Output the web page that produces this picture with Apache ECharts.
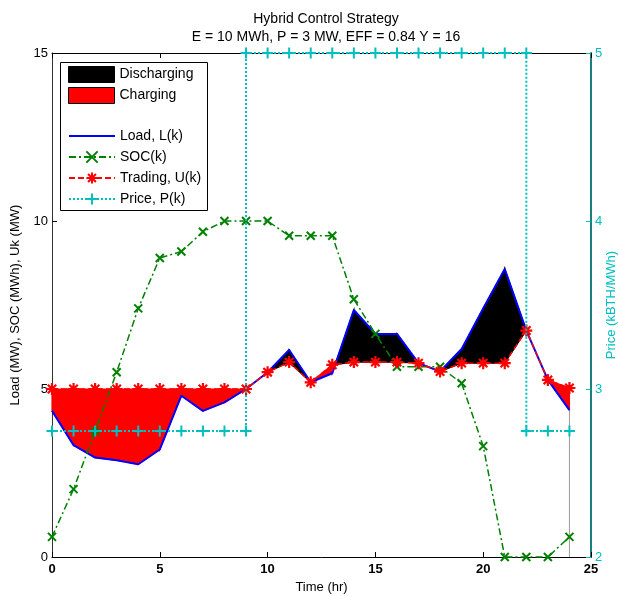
<!DOCTYPE html>
<html><head><meta charset="utf-8">
<script src="https://cdn.jsdelivr.net/npm/echarts@6/dist/echarts.min.js"></script>
<style>html,body{margin:0;padding:0;background:#fff}#c{width:618px;height:596px}</style>
</head><body><div id="c"></div>
<script>
var hours = [0,1,2,3,4,5,6,7,8,9,10,11,12,13,14,15,16,17,18,19,20,21,22,23,24];
var load = [4.35,3.33,2.96,2.88,2.76,3.2,4.8,4.35,4.6,5.0,5.5,6.16,5.2,5.47,7.35,6.64,6.64,5.77,5.52,6.19,7.4,8.57,6.74,5.27,4.37];
var trading = [5,5,5,5,5,5,5,5,5,5,5.5,5.8,5.2,5.72,5.8,5.8,5.8,5.77,5.52,5.77,5.77,5.77,6.74,5.27,5.03];
var soc = [0.6,2.02,3.75,5.5,7.4,8.9,9.09,9.68,10,10,10,9.56,9.56,9.56,7.67,6.64,5.66,5.66,5.66,5.17,3.3,0,0,0,0.6];
var priceHours = [0,1,2,3,4,5,6,7,8,9,9,10,11,12,13,14,15,16,17,18,19,20,21,22,22,23,24];
var priceValues = [2.75,2.75,2.75,2.75,2.75,2.75,2.75,2.75,2.75,2.75,5,5,5,5,5,5,5,5,5,5,5,5,5,5,2.75,2.75,2.75];
var xTicks = [0,5,10,15,20,25];
var leftTicks = [0,5,10,15];
var rightTicks = [2,3,4,5];

var FONT = 'Liberation Sans, Arial, sans-serif';
function pairs(xs, ys){ return xs.map(function(x,i){ return [x, ys[i]]; }); }
var segs = [];
for (var k=0;k<hours.length-1;k++) segs.push([hours[k],load[k],trading[k],hours[k+1],load[k+1],trading[k+1]]);

function makeFill(sign, color, name){
  return {
    type:'custom', name:name, xAxisIndex:0, yAxisIndex:0, z:1, silent:true,
    itemStyle:{color:color},
    encode:{x:[0,3], y:[1,2,4,5]},
    data: segs,
    renderItem: function(params, api){
      var h0=api.value(0), l0=api.value(1), u0=api.value(2), h1=api.value(3), l1=api.value(4), u1=api.value(5);
      var d0=(l0-u0)*sign, d1=(l1-u1)*sign, pts;
      if (d0<=0 && d1<=0) return null;
      if (d0>=0 && d1>=0) pts=[[h0,l0],[h1,l1],[h1,u1],[h0,u0]];
      else {
        var t=d0/(d0-d1), hc=h0+t*(h1-h0), yc=u0+t*(u1-u0);
        if (d0>0) pts=[[h0,l0],[hc,yc],[h0,u0]]; else pts=[[hc,yc],[h1,l1],[h1,u1]];
      }
      return {type:'polygon', shape:{points: pts.map(function(p){return api.coord(p);})}, style:{fill:color, stroke:color, lineWidth:1.2}};
    }
  };
}

var symX = 'path://M0 0L10 10M10 0L0 10';
var symPlus = 'path://M5 0L5 10M0 5L10 5';
var symStar = 'path://M5 0L5 10M0 5L10 5M1.5 1.5L8.5 8.5M8.5 1.5L1.5 8.5';

var last = hours.length-1;
var chart = echarts.init(document.getElementById('c'), null, {renderer:'canvas'});
chart.setOption({
  animation:false,
  backgroundColor:'#fff',
  title:{ text:'Hybrid Control Strategy\nE = 10 MWh, P = 3 MW, EFF = 0.84 Y = 16', left:321, textAlign:'center', top:5,
    textStyle:{fontFamily:FONT, fontSize:14, fontWeight:'normal', color:'#000', lineHeight:18} },
  grid:{ left:52, right:27, top:53, bottom:39, outerBoundsMode:'none', containLabel:false },
  graphic:[{ type:'rect', shape:{x:60.5, y:62.5, width:147, height:148}, style:{fill:'#fff', stroke:'#000', lineWidth:1}, z:50 }],
  legend:[
    { orient:'vertical', left:68, top:66, padding:0, itemWidth:46, itemHeight:16, itemGap:4, z:60,
      textStyle:{fontFamily:FONT, fontSize:14, color:'#000'},
      data:[ {name:'Discharging', icon:'rect', itemStyle:{color:'#000', borderColor:'#000', borderWidth:1}},
             {name:'Charging', icon:'rect', itemStyle:{color:'#ff0000', borderColor:'#000', borderWidth:1}} ] },
    { orient:'vertical', left:68, top:129, padding:0, itemWidth:46, itemHeight:14, itemGap:7, z:60,
      textStyle:{fontFamily:FONT, fontSize:14, color:'#000'},
      data:[ {name:'Load, L(k)', icon:'path://M0 6L46 6L46 8L0 8Z', itemStyle:{color:'#0000ff', borderWidth:0}},
             'SOC(k)','Trading, U(k)','Price, P(k)'] }
  ],
  xAxis:[
    { type:'value', min:0, max:25, interval:5, position:'bottom',
      name:'Time (hr)', nameLocation:'middle', nameGap:23, nameTextStyle:{fontFamily:FONT, fontSize:13, color:'#000'},
      axisLine:{show:true, onZero:false, lineStyle:{color:'#000', width:1}},
      axisTick:{show:true, inside:true, length:5, lineStyle:{color:'#000'}},
      axisLabel:{fontFamily:FONT, fontSize:13, color:'#000', margin:6, fontWeight:'bold'},
      splitLine:{show:false} },
    { type:'value', min:0, max:25, interval:5, position:'top',
      axisLine:{show:true, onZero:false, lineStyle:{color:'#000', width:1}},
      axisTick:{show:true, inside:true, length:5, lineStyle:{color:'#000'}},
      axisLabel:{show:false}, splitLine:{show:false} }
  ],
  yAxis:[
    { type:'value', min:0, max:15, interval:5, position:'left',
      name:'Load (MW), SOC (MWh), Uk (MW)', nameLocation:'middle', nameGap:30, nameRotate:90,
      nameTextStyle:{fontFamily:FONT, fontSize:13, color:'#000'},
      axisLine:{show:true, onZero:false, lineStyle:{color:'#333', width:1}},
      axisTick:{show:true, inside:true, length:5, lineStyle:{color:'#000'}},
      axisLabel:{fontFamily:FONT, fontSize:13, color:'#000', margin:4},
      splitLine:{show:false} },
    { type:'value', min:2, max:5, interval:1, position:'right',
      name:'Price (kBTH/MWh)', nameLocation:'middle', nameGap:14, nameRotate:90, nameMoveOverlap:false,
      nameTextStyle:{fontFamily:FONT, fontSize:13, color:'#00bfbf'},
      axisLine:{show:true, onZero:false, lineStyle:{color:'#1a7f7f', width:2}},
      axisTick:{show:true, inside:true, length:5, lineStyle:{color:'#00bfbf'}},
      axisLabel:{fontFamily:FONT, fontSize:13, color:'#00bfbf', margin:4},
      splitLine:{show:false} }
  ],
  series:[
    makeFill(1, '#000000', 'Discharging'),
    makeFill(-1, '#ff0000', 'Charging'),
    { type:'line', name:'edge', data:[[hours[last],0],[hours[last],load[last]]], symbol:'none', silent:true, z:2,
      lineStyle:{color:'#a09a9a', width:1} },
    { type:'line', name:'Load, L(k)', data:pairs(hours, load), symbol:'none', z:3,
      lineStyle:{color:'#0000ff', width:2}, itemStyle:{color:'#0000ff'} },
    { type:'line', name:'SOC(k)', data:pairs(hours, soc), symbol:symX, symbolSize:8, z:4, clip:false,
      lineStyle:{color:'#008000', width:1.5, type:[7,3,2,3]},
      itemStyle:{color:'#008000', borderColor:'#008000', borderWidth:2} },
    { type:'line', name:'Trading, U(k)', data:pairs(hours, trading), symbol:symStar, symbolSize:12, z:5,
      lineStyle:{color:'#ff0000', width:1.5, type:[6,3]},
      itemStyle:{color:'#ff0000', borderColor:'#ff0000', borderWidth:2.2} },
    { type:'line', name:'Price, P(k)', yAxisIndex:1, data:pairs(priceHours, priceValues), symbol:symPlus, symbolSize:11, z:6, clip:false,
      lineStyle:{color:'#00bfbf', width:2, type:[2,2]},
      itemStyle:{color:'#00bfbf', borderColor:'#00bfbf', borderWidth:2} }
  ]
});
</script></body></html>
